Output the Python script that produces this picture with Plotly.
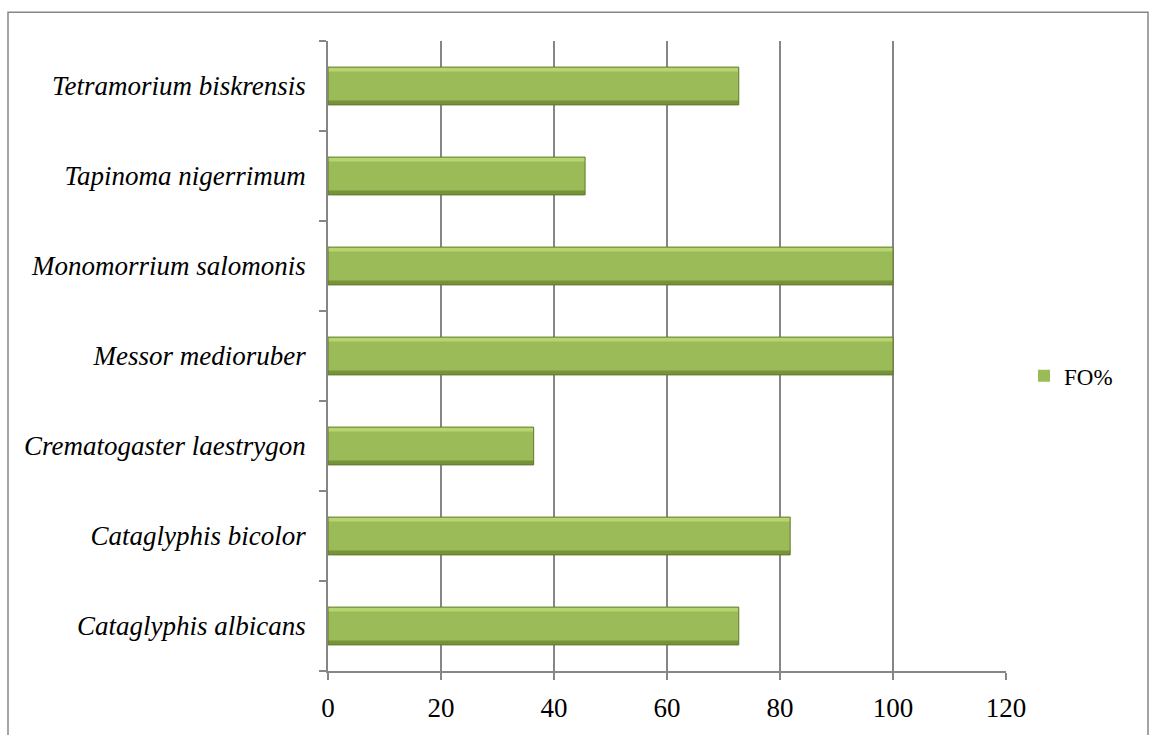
import plotly.graph_objects as go

species = [
    "Cataglyphis albicans",
    "Cataglyphis bicolor",
    "Crematogaster laestrygon",
    "Messor medioruber",
    "Monomorrium salomonis",
    "Tapinoma nigerrimum",
    "Tetramorium biskrensis",
]
fo_values = [72.7, 81.8, 36.4, 100, 100, 45.5, 72.7]
x_ticks = [0, 20, 40, 60, 80, 100, 120]
series_name = "FO%"

W, H = 1159, 735
L, R, T, B = 328, W - 1006, 41, H - 679
pw, ph = W - L - R, H - T - B

BAR_W = 0.42
fig = go.Figure()
# main body
fig.add_trace(go.Bar(
    y=species, x=fo_values, orientation="h", name=series_name,
    width=BAR_W, offset=-BAR_W / 2,
    marker=dict(color="#9BBB59", line=dict(width=0)),
    showlegend=True, legendgroup="fo",
))
# top highlight
fig.add_trace(go.Bar(
    y=species, x=fo_values, orientation="h", name=series_name,
    width=0.05, offset=BAR_W / 2 - 0.05,
    marker=dict(color="#B7D56E", line=dict(width=0)),
    showlegend=False, hoverinfo="skip", legendgroup="fo",
))
# bottom shade
fig.add_trace(go.Bar(
    y=species, x=fo_values, orientation="h", name=series_name,
    width=0.05, offset=-BAR_W / 2,
    marker=dict(color="#76933A", line=dict(width=0)),
    showlegend=False, hoverinfo="skip", legendgroup="fo",
))
# outline
fig.add_trace(go.Bar(
    y=species, x=fo_values, orientation="h", name=series_name,
    width=BAR_W, offset=-BAR_W / 2,
    marker=dict(color="rgba(0,0,0,0)", line=dict(color="#5E7A2A", width=1)),
    showlegend=False, hoverinfo="skip", legendgroup="fo",
))

font_family = "Liberation Serif, Times New Roman, serif"

fig.update_layout(
    width=W, height=H,
    margin=dict(l=L, r=R, t=T, b=B),
    paper_bgcolor="white", plot_bgcolor="white",
    barmode="overlay",
    font=dict(family=font_family, size=22, color="black"),
    showlegend=True,
    legend=dict(x=(1024 - L) / pw, y=(679 - 380) / ph, xanchor="left", yanchor="middle",
                font=dict(family=font_family, size=23, color="black"),
                itemwidth=30, bgcolor="rgba(0,0,0,0)"),
    xaxis=dict(
        range=[0, 120], tickvals=x_ticks, ticktext=[str(v) for v in x_ticks],
        showgrid=True, gridcolor="#868686", gridwidth=1.5,
        showline=True, linecolor="#868686", linewidth=1.5,
        ticks="outside", ticklen=7, tickcolor="#868686", tickwidth=1.5,
        zeroline=False, ticklabelstandoff=5,
        tickfont=dict(family=font_family, size=27, color="black"),
    ),
    yaxis=dict(
        type="category", categoryorder="array", categoryarray=species,
        showline=True, linecolor="#868686", linewidth=1.5,
        ticks="outside", ticklen=7, tickcolor="#868686", tickwidth=1.5,
        tickson="boundaries", showgrid=False, ticklabelstandoff=15,
        tickfont=dict(family="Liberation Serif", size=27, color="black", style="italic"),
    ),
    shapes=[dict(
        type="rect", xref="paper", yref="paper",
        x0=(8 - L) / pw, x1=(1148 - L) / pw,
        y0=(679 - 745) / ph, y1=(679 - 12) / ph,
        line=dict(color="#868686", width=1.5), fillcolor="rgba(0,0,0,0)", layer="below",
    )],
)

fig.write_html("out.html")
